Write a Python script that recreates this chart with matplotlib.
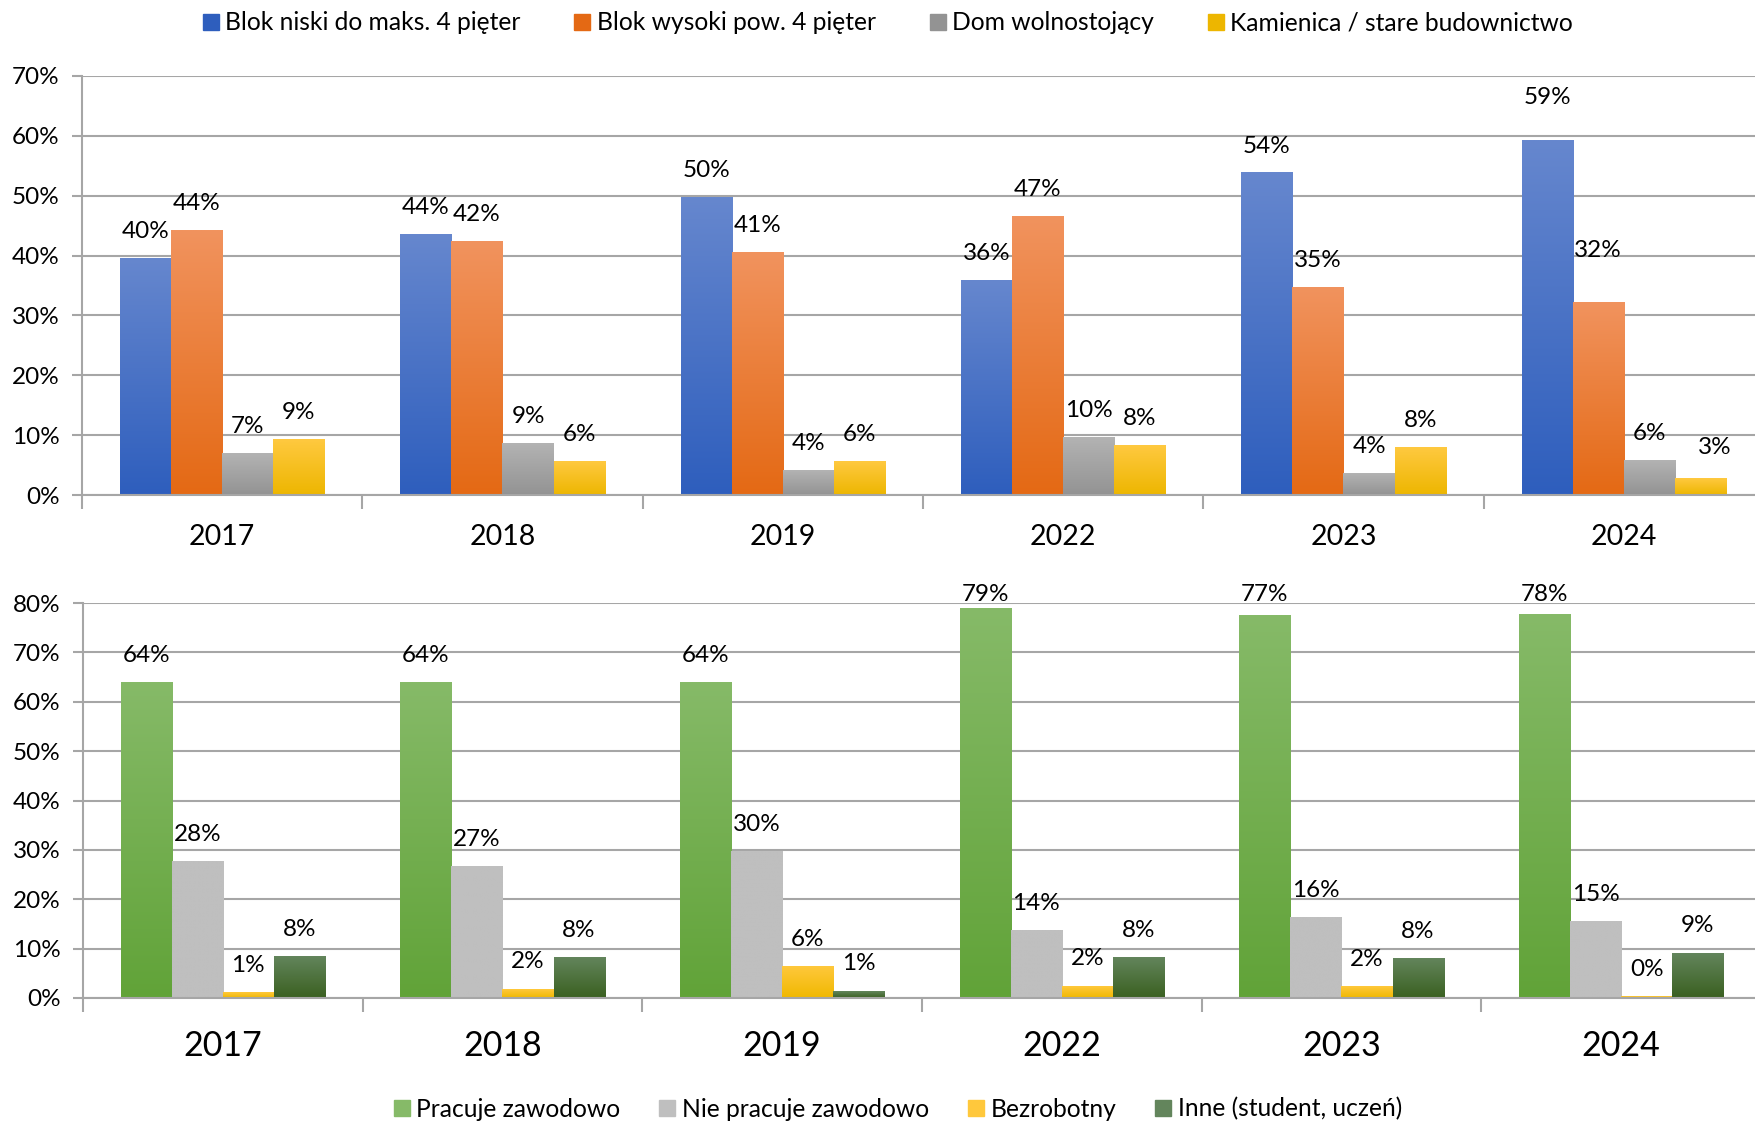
import numpy as np
import matplotlib
matplotlib.use('Agg')
import matplotlib.pyplot as plt
from matplotlib.colors import LinearSegmentedColormap
from matplotlib.lines import Line2D

plt.rcParams['font.family'] = ['Lato', 'DejaVu Sans']

years = ['2017', '2018', '2019', '2022', '2023', '2024']

# top chart: type of building
house_names = ['Blok niski do maks. 4 pięter', 'Blok wysoki pow. 4 pięter',
               'Dom wolnostojący', 'Kamienica / stare budownictwo']
blok_niski = [39.5, 43.5, 49.7, 35.8, 53.8, 59.3]
blok_wysoki = [44.2, 42.3, 40.5, 46.5, 34.6, 32.1]
dom = [7.0, 8.6, 4.1, 9.6, 3.6, 5.7]
kamienica = [9.2, 5.6, 5.6, 8.2, 7.9, 2.7]

# bottom chart: professional status
work_names = ['Pracuje zawodowo', 'Nie pracuje zawodowo', 'Bezrobotny',
              'Inne (student, uczeń)']
pracuje = [63.9, 63.9, 63.9, 78.9, 77.4, 77.7]
nie_pracuje = [27.6, 26.7, 29.7, 13.6, 16.3, 15.4]
bezrobotny = [1.1, 1.8, 6.3, 2.4, 2.3, 0.3]
inne = [8.4, 8.2, 1.4, 8.2, 7.9, 9.1]

# (top, bottom) gradient colours
top_colors = [('#6687CE', '#2E5EBD'), ('#F1935E', '#E46914'),
              ('#B3B3B3', '#939393'), ('#FFC940', '#EDB600')]
bot_colors = [('#86BA68', '#61A338'), ('#BFBFBF', '#BFBFBF'),
              ('#FFC83C', '#F0B800'), ('#63855C', '#3A6020')]

W, H = 1756, 1122
fig = plt.figure(figsize=(W / 100, H / 100), dpi=100)

grad = np.linspace(0, 1, 256).reshape(-1, 1)
bw = 0.1825


def draw_chart(ax, series, colors, ymax, step, lab_off, lab_cap, year_fs, year_pad, nudges):
    x = np.arange(len(years))
    for i, (vals, (ctop, cbot)) in enumerate(zip(series, colors)):
        cm = LinearSegmentedColormap.from_list('g', [cbot, ctop])
        xs = x + (i - 1.5) * bw
        for j, (xc, v) in enumerate(zip(xs, vals)):
            ax.imshow(grad, extent=[xc - bw / 2, xc + bw / 2, 0, v], origin='lower',
                      cmap=cm, aspect='auto', zorder=2, interpolation='bilinear')
            dx, dy = nudges.get((i, j), (0, 0))
            ly = min(v + lab_off, lab_cap) + dy
            ax.text(xc + dx, ly, f'{int(v + 0.5)}%', ha='center', va='center',
                    fontsize=17.5, color='black', zorder=4, clip_on=False)
    ax.set_xlim(-0.5, len(years) - 0.5)
    ax.set_ylim(0, ymax)
    ax.set_yticks(np.arange(0, ymax + 1, step))
    ax.set_yticklabels([f'{v}%' for v in range(0, ymax + 1, step)], fontsize=17.5)
    ax.yaxis.grid(True, color='#A6A6A6', linewidth=1.5, zorder=0)
    ax.set_axisbelow(True)
    ax.set_xticks(x)
    ax.set_xticklabels(years, fontsize=year_fs)
    ax.set_xticks(np.arange(-0.5, len(years)), minor=True)
    ax.tick_params(axis='x', which='major', length=0, pad=year_pad)
    ax.tick_params(axis='x', which='minor', length=10, width=1.5, color='#A6A6A6')
    ax.tick_params(axis='y', length=7, width=1.5, color='#A6A6A6', pad=9)
    for s in ['top', 'right']:
        ax.spines[s].set_visible(False)
    for s in ['left', 'bottom']:
        ax.spines[s].set_color('#A6A6A6')
        ax.spines[s].set_linewidth(1.5)


ax1 = fig.add_axes([82 / W, 1 - 495 / H, (1764 - 82) / W, (495 - 76) / H])
draw_chart(ax1, [blok_niski, blok_wysoki, dom, kamienica], top_colors,
           70, 10, 4.5, 200, 20.5, 21,
           {(0, 5): (0, 2.6), (1, 5): (0, 4.3), (3, 5): (0.05, 0.8)})

ax2 = fig.add_axes([83 / W, 1 - 998 / H, (1761 - 83) / W, (998 - 603) / H])
draw_chart(ax2, [pracuje, nie_pracuje, bezrobotny, inne], bot_colors,
           80, 10, 5.5, 81.8, 24.5, 23, {})


def legend(names, colors, cx, cy, spacing):
    handles = [Line2D([], [], linestyle='none', marker='s', markersize=12,
                      markerfacecolor=c, markeredgecolor=c) for c in colors]
    fig.legend(handles, names, loc='center', bbox_to_anchor=(cx, cy), ncol=4,
               frameon=False, fontsize=17.7, handletextpad=0.2, columnspacing=spacing,
               handlelength=0.8)


legend(house_names, [c[1] for c in top_colors], 887 / W, 1 - 23 / H, 2.1)
legend(work_names, [c[0] for c in bot_colors], 897 / W, 1 - 1109 / H, 1.5)

fig.savefig('out.png', dpi=100)
